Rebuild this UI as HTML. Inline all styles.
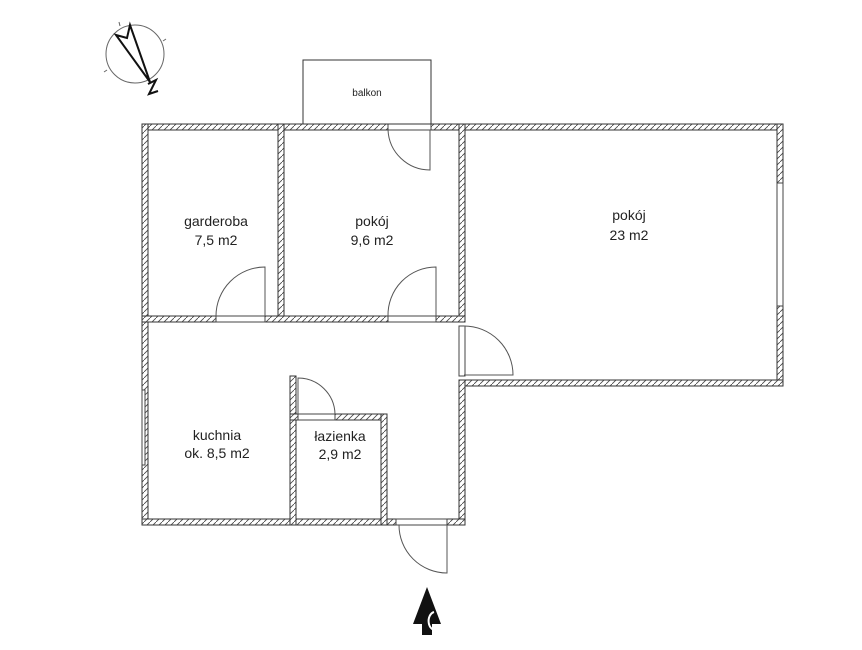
<!DOCTYPE html>
<html><head><meta charset="utf-8"><style>
html,body{margin:0;padding:0;background:#fff}
svg text{font-family:"Liberation Sans",sans-serif;fill:#222}
</style></head><body>
<svg width="862" height="645" viewBox="0 0 862 645" xmlns="http://www.w3.org/2000/svg">
<defs>
<pattern id="h" width="6" height="6" patternUnits="userSpaceOnUse">
<rect width="6" height="6" fill="#fff"/>
<path d="M-1,7 L7,-1" stroke="#444" stroke-width="0.8"/>
</pattern>
</defs>
<g stroke="#333" stroke-width="1" fill="url(#h)">
<rect x="142" y="124" width="641" height="6"/>
<rect x="142" y="124" width="6" height="401"/>
<rect x="777" y="124" width="6" height="262"/>
<rect x="460" y="380" width="323" height="6"/>
<rect x="459" y="124" width="6" height="198"/>
<rect x="459" y="380" width="6" height="145"/>
<rect x="278" y="124" width="6" height="198"/>
<rect x="142" y="316" width="323" height="6"/>
<rect x="142" y="519" width="323" height="6"/>
<rect x="290" y="376" width="6" height="149"/>
<rect x="290" y="414" width="97" height="6"/>
<rect x="381" y="414" width="6" height="111"/>
</g>
<g fill="#fff" stroke="#444" stroke-width="1">
<rect x="388" y="124" width="43" height="6"/>
<rect x="216" y="316" width="49" height="6"/>
<rect x="388" y="316" width="48" height="6"/>
<rect x="459" y="326" width="6" height="50"/>
<rect x="298" y="414" width="37" height="6"/>
<rect x="396" y="519" width="51" height="6"/>
<rect x="777" y="183" width="6" height="123"/>
<rect x="142" y="390" width="3" height="75"/>
</g>
<rect x="303" y="60" width="128" height="64" fill="none" stroke="#333"/>
<text x="367" y="96" font-size="10" text-anchor="middle">balkon</text>
<g fill="none" stroke="#555" stroke-width="1">
<path d="M430,130 V170 A42,42 0 0 1 388,130"/>
<path d="M265,316 V267 A49,49 0 0 0 216,316"/>
<path d="M436,316 V267 A48,48 0 0 0 388,316"/>
<path d="M464,375 H513 A49,49 0 0 0 464,326"/>
<path d="M298,414 V378 A37,37 0 0 1 335,414"/>
<path d="M447,525 V573 A48,48 0 0 1 399,525"/>
</g>
<g font-size="14" text-anchor="middle">
<text x="216" y="226">garderoba</text><text x="216" y="245">7,5 m2</text>
<text x="372" y="226">pokój</text><text x="372" y="245">9,6 m2</text>
<text x="629" y="220">pokój</text><text x="629" y="240">23 m2</text>
<text x="217" y="440">kuchnia</text><text x="217" y="458">ok. 8,5 m2</text>
<text x="340" y="441">łazienka</text><text x="340" y="459">2,9 m2</text>
</g>
<path d="M427,587 L441,624 H432 V635 H422 V624 H413 Z" fill="#111"/>
<path d="M434,612 A6,8 0 0 0 437,630" fill="none" stroke="#fff" stroke-width="2"/>
<circle cx="135" cy="54" r="29" fill="none" stroke="#666"/>
<g stroke="#666"><line x1="120" y1="26" x2="119" y2="22"/><line x1="163" y1="41" x2="166" y2="39"/><line x1="107" y1="70" x2="104" y2="72"/></g>
<path d="M116,35 L150,82 L130,25 L127,38 Z" fill="none" stroke="#111" stroke-width="2" stroke-linejoin="miter"/>
<path d="M148,84 L156,80 L149,94 L158,91" fill="none" stroke="#111" stroke-width="2"/>
</svg>
</body></html>
